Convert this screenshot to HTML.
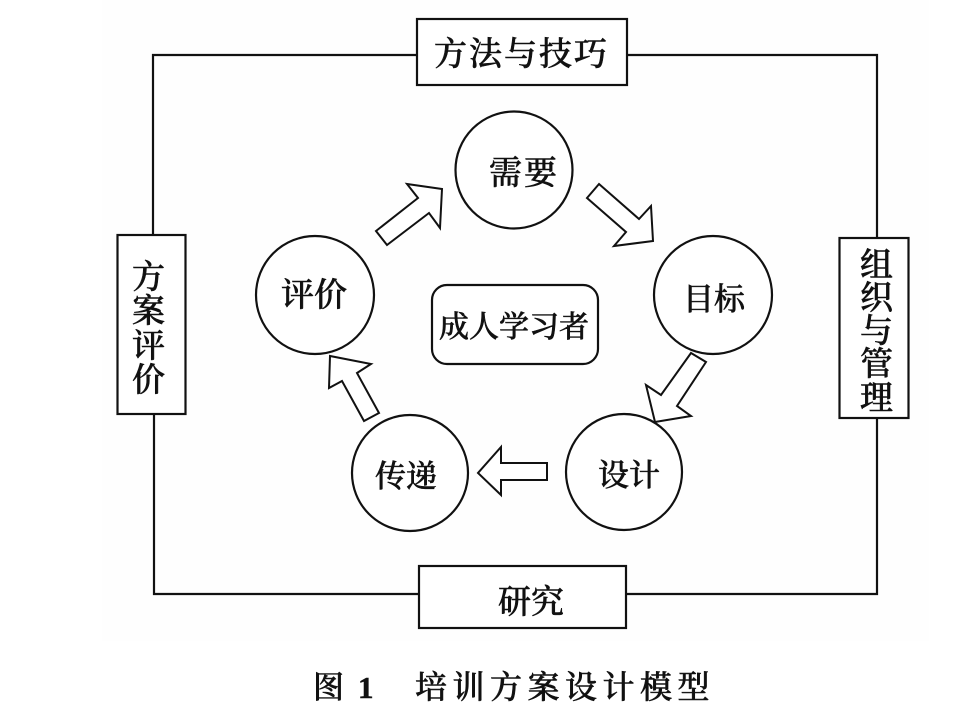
<!DOCTYPE html>
<html lang="zh">
<head>
<meta charset="utf-8">
<style>
html,body{margin:0;padding:0;background:#fff;width:976px;height:718px;overflow:hidden}
svg{display:block}
text{font-family:"Liberation Serif","Noto Serif CJK SC",serif;font-weight:500;fill:#111;stroke:#111;stroke-width:.55}
.s{stroke:#111;fill:#fff;stroke-width:2.2}
.a{stroke:#111;fill:#fff;stroke-width:2;stroke-linejoin:miter}
</style>
</head>
<body>
<svg width="976" height="718" viewBox="0 0 976 718" xmlns="http://www.w3.org/2000/svg">
<rect width="976" height="718" fill="#fff"/>
<rect x="102" y="0" width="827" height="641" fill="#fefefe"/>
<path d="M153 235V55H877V594H154V414" fill="none" stroke="#111" stroke-width="2.2"/>
<rect class="s" x="417" y="19" width="210" height="66"/>
<rect class="s" x="117.500" y="235" width="68" height="179"/>
<rect class="s" x="839.500" y="238" width="69" height="180"/>
<rect class="s" x="419" y="566" width="207" height="62"/>
<circle class="s" cx="514" cy="170" r="58.500"/>
<circle class="s" cx="713" cy="295" r="59"/>
<circle class="s" cx="624" cy="472" r="58"/>
<circle class="s" cx="410" cy="473" r="58"/>
<circle class="s" cx="315" cy="295" r="59"/>
<rect class="s" x="432" y="285" width="166" height="79" rx="15"/>
<polygon class="a" points="376,231 418,198 407,184 442,189 440,228 429,213 387,245"/>
<polygon class="a" points="599,184 639,219 651,206 653,241 614,246 626,232 587,198"/>
<polygon class="a" points="691,353 706,362 677,406 691,416 655,422 646,385 661,395"/>
<polygon class="a" points="547,463 501,463 501,447 478,473 501,495 501,480 547,480"/>
<polygon class="a" points="379,413 357,373 371,364 330,356 329,388 342,381 364,421"/>
<text x="434" y="65" font-size="33" letter-spacing="2">方法与技巧</text>
<text x="489" y="184" font-size="33" letter-spacing="2">需要</text>
<text x="683" y="310" font-size="31">目标</text>
<text x="598" y="486" font-size="31">设计</text>
<text x="375" y="487" font-size="31">传递</text>
<text x="281" y="306" font-size="33">评价</text>
<text x="439" y="337" font-size="30">成人学习者</text>
<text x="498" y="613" font-size="33">研究</text>
<g font-size="33">
<text x="132" y="288">方</text>
<text x="132" y="322">案</text>
<text x="132" y="357">评</text>
<text x="132" y="391">价</text>
<text x="860" y="276">组</text>
<text x="860" y="309">织</text>
<text x="860" y="342">与</text>
<text x="860" y="375">管</text>
<text x="860" y="409">理</text>
</g>
<text x="313" y="698" font-size="31">图</text>
<text x="358" y="698" font-size="31" style="font-weight:700">1</text>
<text x="415" y="698" font-size="32" letter-spacing="5.500">培训方案设计模型</text>
</svg>
</body>
</html>
